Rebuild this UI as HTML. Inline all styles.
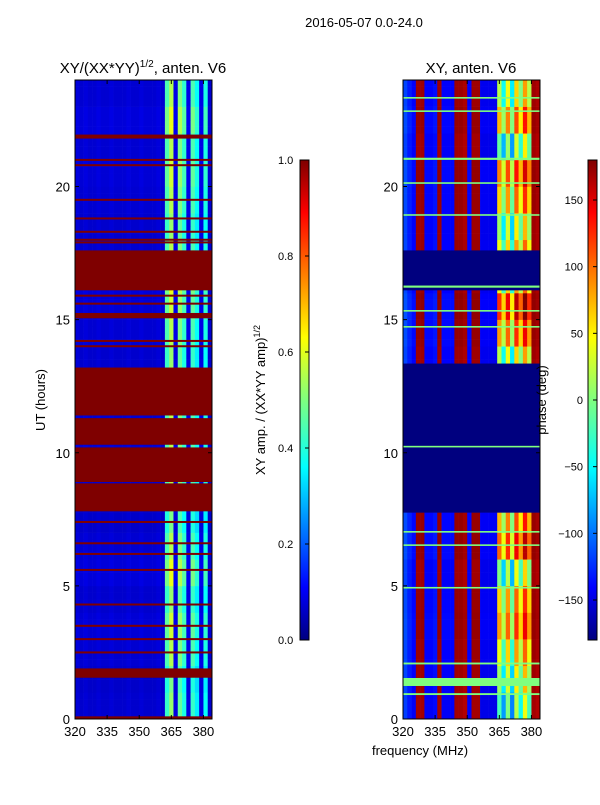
<!DOCTYPE html>
<html><head><meta charset="utf-8"><style>
body{margin:0;background:#fff;width:600px;height:800px;overflow:hidden;font-family:"Liberation Sans",sans-serif}
svg text{font-family:"Liberation Sans",sans-serif;fill:#000}
</style></head><body>
<svg id="fig" width="600" height="800" xmlns="http://www.w3.org/2000/svg">
<defs>
<linearGradient id="jet" x1="0" y1="1" x2="0" y2="0">
<stop offset="0" stop-color="#00007f"/><stop offset="0.11" stop-color="#0000ff"/><stop offset="0.36" stop-color="#00ffff"/><stop offset="0.5" stop-color="#7fff7f"/><stop offset="0.63" stop-color="#ffff00"/><stop offset="0.89" stop-color="#ff0000"/><stop offset="1" stop-color="#7f0000"/>
</linearGradient>
</defs>
<text x="364" y="27" font-size="13" text-anchor="middle">2016-05-07 0.0-24.0</text>
<g id="left"></g>
<g id="right"></g>
<text x="143" y="73" font-size="15" text-anchor="middle">XY/(XX*YY)<tspan font-size="10" dy="-6">1/2</tspan><tspan dy="6">, anten. V6</tspan></text>
<text x="471" y="73" font-size="15" text-anchor="middle">XY, anten. V6</text>
<text transform="translate(45,400) rotate(-90)" font-size="13" text-anchor="middle">UT (hours)</text>
<text x="420" y="755" font-size="13" text-anchor="middle">frequency (MHz)</text>
<g id="cb1"></g>
<g id="cb2"></g>
<text transform="translate(265,400) rotate(-90)" font-size="13" text-anchor="middle">XY amp. / (XX*YY amp)<tspan font-size="9" dy="-5">1/2</tspan></text>
<text transform="translate(546,400) rotate(-90)" font-size="13" text-anchor="middle">phase (deg)</text>
</svg>
<script>
const freqs=[320,322,324,326,328,330,332,334,336,338,340,342,344,346,348,350,352,354,356,358,360,362,364,366,368,370,372,374,376,378,380,382];
const ampByFreq=[0.09,0.08,0.09,0.08,0.08,0.09,0.08,0.08,0.09,0.08,0.08,0.08,0.09,0.08,0.08,0.09,0.08,0.08,0.08,0.09,0.08,0.45,0.55,0.1,0.5,0.42,0.1,0.45,0.38,0.1,0.4,0.08];
const ampByHour=[0.95,0.9,1.0,1.05,0.95,1.1,1.0,0.9,1,1,1,1,1,0.95,1.0,1.05,1.1,1,0.95,1.0,1.05,1.0,1.1,1.0];
const phaseByFreq=[-110,-125,-135,170,170,-135,-135,-130,170,-135,-135,-135,170,170,165,-135,170,170,-140,-140,-140,-140,40,-20,60,-30,80,20,100,40,170,165];
const phaseShiftByHour=[-60,-30,0,40,20,-40,60,30,0,0,0,0,0,-20,40,80,0,0,-30,20,50,-50,30,-20];
const ampFlagBands=[[0,0.1],[1.55,1.9],[7.8,8.85],[8.9,10.2],[10.3,11.3],[11.4,13.2],[15.05,15.25],[16.1,17.6],[21.8,21.95]];
const ampFlagLines=[2.5,3.0,3.5,4.3,5.6,6.2,6.6,7.4,14.0,14.2,15.6,15.9,17.9,18.3,18.8,19.5,20.8,18.0,21.0];
const phaseFlagBands=[[7.75,13.35],[16.1,17.6]];
const phaseGreenBands=[[1.24,1.54],[0.9,0.97],[2.05,2.12],[6.5,6.56],[7.0,7.06],[4.9,4.96],[14.7,14.76],[15.3,15.36],[16.2,16.28],[18.9,18.96],[20.1,20.16],[21.0,21.08],[22.8,22.86],[23.3,23.36],[10.2,10.26]];
const ampTicks=[0,0.2,0.4,0.6,0.8,1.0];
const phaseTicks=[-150,-100,-50,0,50,100,150];
const hourTicks=[0,5,10,15,20];
const freqTicks=[320,335,350,365,380];

const NS="http://www.w3.org/2000/svg";
const Y0=719,Y1=80,FMIN=320,FMAX=384;
function yS(h){return Y0-(h/24)*(Y0-Y1);}
function xS(f,x0){return x0+(f-FMIN)/(FMAX-FMIN)*137;}
function jet(v){v=Math.max(0,Math.min(1,v));const c=t=>Math.round(255*Math.max(0,Math.min(1,1.5-Math.abs(4*v-t))));return `rgb(${c(3)},${c(2)},${c(1)})`;}
function mk(tag,attrs,parent){const e=document.createElementNS(NS,tag);for(const k in attrs)e.setAttribute(k,attrs[k]);parent.appendChild(e);return e;}
function wrap(p){while(p>180)p-=360;while(p<-180)p+=360;return p;}

function drawPanel(g,x0,valFn,flagFn){
  const dh=0.25;
  for(let r=0;r<96;r++){
    const h=r*dh;
    for(let c=0;c<freqs.length;c++){
      const v=valFn(h,c);
      const x=xS(freqs[c],x0),w=xS(freqs[c]+2,x0)-x;
      const rc=mk('rect',{x:x,y:yS(h+dh),width:w+0.3,height:yS(h)-yS(h+dh)+0.3,fill:jet(v)},g);
      
      
    }
  }
  flagFn(g,x0);
  mk('rect',{x:x0,y:Y1,width:137,height:Y0-Y1,fill:'none',stroke:'#000','stroke-width':1},g);
  hourTicks.forEach(t=>{
    mk('line',{x1:x0,x2:x0+4,y1:yS(t),y2:yS(t),stroke:'#000'},g);
    mk('line',{x1:x0+137,x2:x0+133,y1:yS(t),y2:yS(t),stroke:'#000'},g);
    const tx=mk('text',{x:x0-5,y:yS(t)+5,'font-size':13,'text-anchor':'end'},g);tx.textContent=t;
    
    
  });
  freqTicks.forEach(t=>{
    mk('line',{x1:xS(t,x0),x2:xS(t,x0),y1:Y0,y2:Y0-4,stroke:'#000'},g);
    mk('line',{x1:xS(t,x0),x2:xS(t,x0),y1:Y1,y2:Y1+4,stroke:'#000'},g);
    const tx=mk('text',{x:xS(t,x0),y:Y0+17,'font-size':13,'text-anchor':'middle'},g);tx.textContent=t;
    
    
  });
}

drawPanel(document.getElementById('left'),75,
  (h,c)=>ampByFreq[c]*ampByHour[Math.floor(h)],
  (g,x0)=>{
    ampFlagBands.forEach(b=>{const r=mk('rect',{x:x0,y:yS(b[1]),width:137,height:yS(b[0])-yS(b[1]),fill:'#7f0000'},g);
      
      });
    ampFlagLines.forEach(h=>{const r=mk('rect',{x:x0,y:yS(h)-1,width:137,height:2,fill:'#7f0000'},g);
      
      });
  });

drawPanel(document.getElementById('right'),403,
  (h,c)=>{const s=phaseShiftByHour[Math.floor(h)]*(c>=22&&c<30?1:0.05);return (wrap(phaseByFreq[c]+s)+180)/360;},
  (g,x0)=>{
    phaseFlagBands.forEach(b=>{const r=mk('rect',{x:x0,y:yS(b[1]),width:137,height:yS(b[0])-yS(b[1]),fill:'#00007f'},g);
      
      });
    phaseGreenBands.forEach(b=>{const r=mk('rect',{x:x0,y:yS(b[1]),width:137,height:Math.max(1.5,yS(b[0])-yS(b[1])),fill:'#7fff7f'},g);
      
      });
  });

function colorbar(g,x,ticks,vmin,vmax,fmt,lx,anchor){
  mk('rect',{x:x,y:160,width:9,height:480,fill:'url(#jet)',stroke:'#000','stroke-width':1},g);
  ticks.forEach(t=>{
    const y=640-(t-vmin)/(vmax-vmin)*480;
    mk('line',{x1:x+9,x2:x+5,y1:y,y2:y,stroke:'#000'},g);
    const tx=mk('text',{x:lx,y:y+4,'font-size':11,'text-anchor':anchor},g);tx.textContent=fmt(t);
    
    
  });
}
colorbar(document.getElementById('cb1'),300,ampTicks,0,1,t=>t.toFixed(1),278,'start');
colorbar(document.getElementById('cb2'),588,phaseTicks,-180,180,t=>t<0?'\u2212'+(-t):String(t),583,'end');
</script>
</body></html>
